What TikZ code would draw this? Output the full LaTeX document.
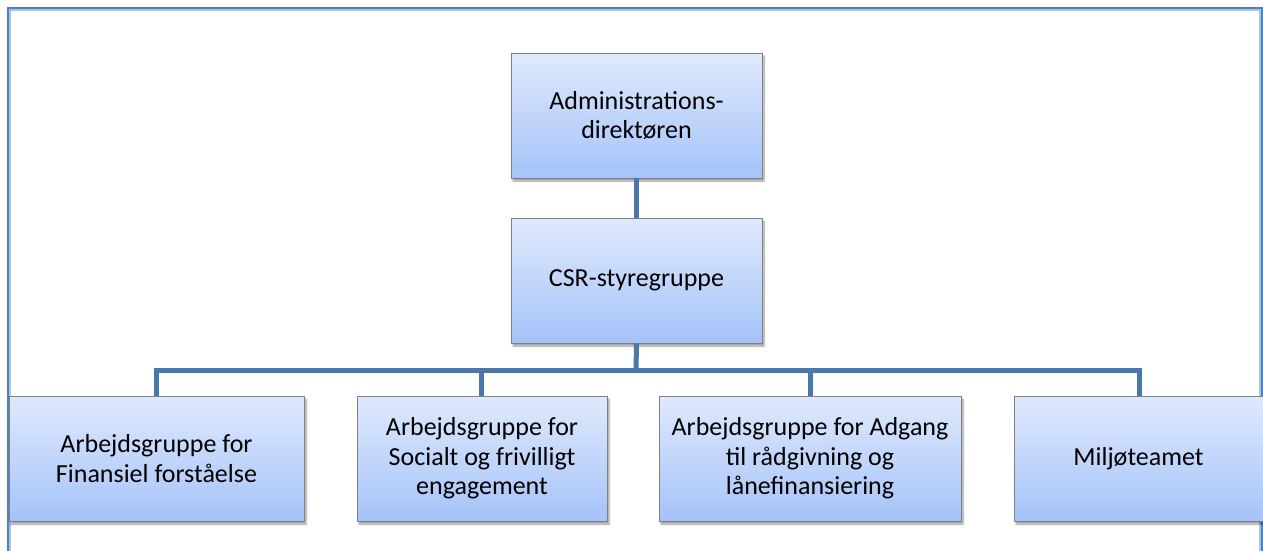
\documentclass[tikz,border=0pt]{standalone}
\usepackage{fontspec}
\setmainfont{Carlito}
\usetikzlibrary{shadows,shadows.blur}
\definecolor{boxtop}{HTML}{DFE9FC}
\definecolor{boxbot}{HTML}{A5C3F9}
\definecolor{conn}{HTML}{4A77AC}
\definecolor{frame}{HTML}{4F81BD}
\definecolor{framein}{HTML}{A9C4E8}
\tikzset{
  orgbox/.style={draw=black!50, line width=0.8pt, top color=boxtop, bottom color=boxbot,
    minimum height=125pt, align=center, inner sep=2pt, font=\fontsize{26}{29.5}\selectfont,
    blur shadow={shadow xshift=2pt, shadow yshift=-3pt, shadow blur steps=6, shadow opacity=40}},
  link/.style={draw=conn, line width=5pt},
}
\begin{document}
\begin{tikzpicture}[x=1pt,y=-1pt]
\useasboundingbox (0,0) rectangle (1263,550);
% frame
\draw[framein, line width=1.5pt] (10,552) -- (10,10) -- (1260,10) -- (1260,552);
\draw[frame, line width=2pt] (8,552) -- (8,8) -- (1262,8) -- (1262,552);
% nodes
\node[orgbox, minimum width=251pt] (dir) at (636.5,115.5) {Administrations-\\direktøren};
\node[orgbox, minimum width=251pt] (csr) at (636.5,280.5) {CSR-styregruppe};
\node[orgbox, minimum width=295pt] (g1) at (156.5,458.5) {Arbejdsgruppe for\\Finansiel forståelse};
\node[orgbox, minimum width=250pt] (g2) at (482,458.5) {Arbejdsgruppe for\\Socialt og frivilligt\\engagement};
\node[orgbox, minimum width=302pt] (g3) at (810,458.5) {Arbejdsgruppe for Adgang\\til rådgivning og\\lånefinansiering};
\node[orgbox, minimum width=249pt] (g4) at (1138.5,458.5) {Miljøteamet};
% connectors
\coordinate (bus) at (636,370);
\draw[link] (dir.south) -- (csr.north);
\draw[link] (csr.south) -- (bus);
\draw[link, line join=miter] (g1.north -| 156,0) -- (156,370) -- (1139,370) -- (1139,396);
\draw[link] (g2.north -| 481,0) -- (481,370);
\draw[link] (g3.north -| 810,0) -- (810,370);
\end{tikzpicture}
\end{document}
